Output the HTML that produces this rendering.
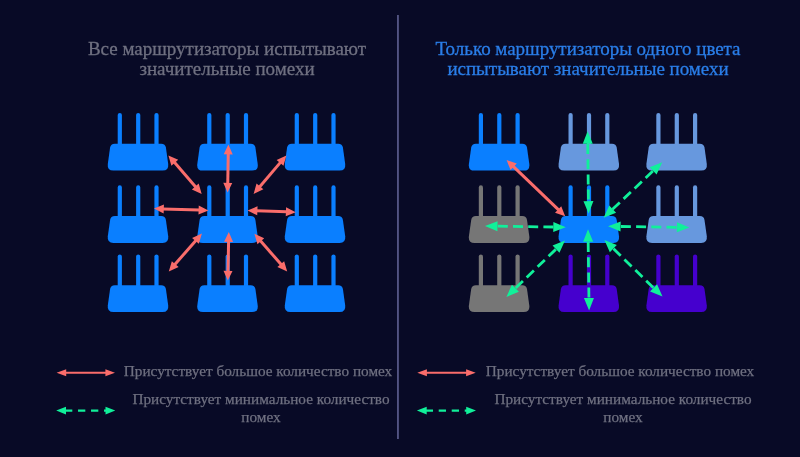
<!DOCTYPE html>
<html><head><meta charset="utf-8">
<style>
html,body{margin:0;padding:0;background:#080a26;}
body{width:800px;height:457px;overflow:hidden;position:relative;font-family:"Liberation Serif",serif;}
svg{position:absolute;left:0;top:0;}
.t{position:absolute;text-align:center;white-space:nowrap;width:400px;will-change:transform;}
.title{font-size:19px;line-height:20px;color:#6f7080;-webkit-text-stroke:0.3px #6f7080;}
.leg{font-size:15.25px;line-height:18px;color:#6f7080;-webkit-text-stroke:0.25px #6f7080;}
</style></head><body>
<div class="t title" id="t1" style="left:26.5px;top:38.7px;">Все маршрутизаторы испытывают<br>значительные помехи</div>
<div class="t title" id="t2" style="left:388px;top:38.7px;color:#2a7ee8;-webkit-text-stroke-color:#2a7ee8;letter-spacing:-0.03px;">Только маршрутизаторы одного цвета<br>испытывают значительные помехи</div>
<div class="t leg" id="l1" style="left:58.2px;top:362.2px;">Присутствует большое количество помех</div>
<div class="t leg" id="l2" style="left:60.5px;top:390.2px;">Присутствует минимальное количество<br>помех</div>
<div class="t leg" id="l3" style="left:420.2px;top:362.2px;">Присутствует большое количество помех</div>
<div class="t leg" id="l4" style="left:422.5px;top:390.2px;">Присутствует минимальное количество<br>помех</div>
<svg width="800" height="457" viewBox="0 0 800 457">
<defs>
<g id="r">
<rect x="9.7" y="0" width="4.2" height="34" rx="2.1"/>
<rect x="28.1" y="0" width="4.2" height="34" rx="2.1"/>
<rect x="46.4" y="0" width="4.2" height="34" rx="2.1"/>
<path d="M6.8 30.8 H53.2 Q57.3 30.8 57.9 34.6 L60.2 51 Q61 57.6 54.6 57.6 H5.4 Q-1 57.6 -0.2 51 L2.1 34.6 Q2.7 30.8 6.8 30.8Z"/>
</g>
</defs>
<rect x="397.2" y="15" width="1.5" height="424" fill="#65679a"/>
<use href="#r" x="108" y="113" fill="#0a7fff"/><use href="#r" x="197.5" y="113" fill="#0a7fff"/><use href="#r" x="285" y="113" fill="#0a7fff"/>
<use href="#r" x="108" y="185.3" fill="#0a7fff"/><use href="#r" x="197.5" y="185.3" fill="#0a7fff"/><use href="#r" x="285" y="185.3" fill="#0a7fff"/>
<use href="#r" x="108" y="254.4" fill="#0a7fff"/><use href="#r" x="197.5" y="254.4" fill="#0a7fff"/><use href="#r" x="285" y="254.4" fill="#0a7fff"/>
<use href="#r" x="469.1" y="113" fill="#0a7fff"/><use href="#r" x="558.8" y="113" fill="#6798de"/><use href="#r" x="646.6" y="113" fill="#6798de"/>
<use href="#r" x="469.1" y="185.3" fill="#767676"/><use href="#r" x="558.8" y="185.3" fill="#0a7fff"/><use href="#r" x="646.6" y="185.3" fill="#6798de"/>
<use href="#r" x="469.1" y="254.4" fill="#767676"/><use href="#r" x="558.8" y="254.4" fill="#4500ce"/><use href="#r" x="646.6" y="254.4" fill="#4500ce"/>
<path d="M174.17 162.07 L195.93 187.23" stroke="#fa6d6b" stroke-width="3" fill="none"/><path d="M168.4 155.4 L178.21 159.87 L171.41 165.76 Z M201.7 193.9 L191.89 189.43 L198.69 183.54 Z" fill="#fa6d6b"/>
<path d="M228.25 153.42 L227.75 183.78" stroke="#fa6d6b" stroke-width="3" fill="none"/><path d="M228.4 144.6 L232.74 154.47 L223.74 154.32 Z M227.6 192.6 L223.26 182.73 L232.26 182.88 Z" fill="#fa6d6b"/>
<path d="M280.68 162.11 L259.32 187.19" stroke="#fa6d6b" stroke-width="3" fill="none"/><path d="M286.4 155.4 L283.47 165.78 L276.62 159.94 Z M253.6 193.9 L256.53 183.52 L263.38 189.36 Z" fill="#fa6d6b"/>
<path d="M162.82 208.89 L199.58 210.11" stroke="#fa6d6b" stroke-width="3" fill="none"/><path d="M154 208.6 L163.94 204.43 L163.65 213.42 Z M208.4 210.4 L198.46 214.57 L198.75 205.58 Z" fill="#fa6d6b"/>
<path d="M256.41 210.73 L286.89 211.87" stroke="#fa6d6b" stroke-width="3" fill="none"/><path d="M247.6 210.4 L257.56 206.27 L257.22 215.26 Z M295.7 212.2 L285.74 216.33 L286.08 207.34 Z" fill="#fa6d6b"/>
<path d="M196.11 240.15 L174.59 264.85" stroke="#fa6d6b" stroke-width="3" fill="none"/><path d="M201.9 233.5 L198.86 243.85 L192.07 237.93 Z M168.8 271.5 L171.84 261.15 L178.63 267.07 Z" fill="#fa6d6b"/>
<path d="M228.62 240.82 L227.98 271.78" stroke="#fa6d6b" stroke-width="3" fill="none"/><path d="M228.8 232 L233.1 241.89 L224.1 241.71 Z M227.8 280.6 L223.5 270.71 L232.5 270.89 Z" fill="#fa6d6b"/>
<path d="M260.19 240.45 L281.41 264.85" stroke="#fa6d6b" stroke-width="3" fill="none"/><path d="M254.4 233.8 L264.23 238.24 L257.44 244.15 Z M287.2 271.5 L277.37 267.06 L284.16 261.15 Z" fill="#fa6d6b"/>
<path d="M512.96 166.11 L558.84 210.19" stroke="#fa6d6b" stroke-width="3" fill="none"/><path d="M506.6 160 L516.78 163.54 L510.55 170.03 Z M565.2 216.3 L555.02 212.76 L561.25 206.27 Z" fill="#fa6d6b"/>
<path d="M587.74 142.45 L588.46 202.35" stroke="#10f09a" stroke-width="2.8" fill="none" stroke-dasharray="10 5.2" stroke-dashoffset="13.65"/><path d="M587.6 131.2 L592.75 143.64 L582.75 143.76 Z M588.6 213.6 L583.45 201.16 L593.45 201.04 Z" fill="#10f09a"/>
<path d="M654.03 170.04 L611.77 210.06" stroke="#10f09a" stroke-width="2.8" fill="none" stroke-dasharray="10 5.2" stroke-dashoffset="13.65"/><path d="M662.2 162.3 L656.56 174.53 L649.69 167.27 Z M603.6 217.8 L609.24 205.57 L616.11 212.83 Z" fill="#10f09a"/>
<path d="M496.25 226.17 L554.55 227.03" stroke="#10f09a" stroke-width="2.8" fill="none" stroke-dasharray="10 5.2" stroke-dashoffset="13.65"/><path d="M485 226 L497.57 221.19 L497.42 231.19 Z M565.8 227.2 L553.23 232.01 L553.38 222.01 Z" fill="#10f09a"/>
<path d="M619.35 226.47 L678.15 227.33" stroke="#10f09a" stroke-width="2.8" fill="none" stroke-dasharray="10 5.2" stroke-dashoffset="13.65"/><path d="M608.1 226.3 L620.67 221.49 L620.52 231.48 Z M689.4 227.5 L676.83 232.31 L676.98 222.32 Z" fill="#10f09a"/>
<path d="M556.89 248.3 L514.51 289.1" stroke="#10f09a" stroke-width="2.8" fill="none" stroke-dasharray="10 5.2" stroke-dashoffset="13.65"/><path d="M565 240.5 L559.46 252.77 L552.53 245.57 Z M506.4 296.9 L511.94 284.63 L518.87 291.83 Z" fill="#10f09a"/>
<path d="M588.15 240.45 L588.95 299.25" stroke="#10f09a" stroke-width="2.8" fill="none" stroke-dasharray="10 5.2" stroke-dashoffset="13.65"/><path d="M588 229.2 L593.17 241.63 L583.17 241.77 Z M589.1 310.5 L583.93 298.07 L593.93 297.93 Z" fill="#10f09a"/>
<path d="M612.45 247.76 L654.45 288.74" stroke="#10f09a" stroke-width="2.8" fill="none" stroke-dasharray="10 5.2" stroke-dashoffset="13.65"/><path d="M604.4 239.9 L616.84 245.05 L609.85 252.21 Z M662.5 296.6 L650.06 291.45 L657.05 284.29 Z" fill="#10f09a"/>
<path d="M65.24 372.7 L106.36 372.7" stroke="#fa6d6b" stroke-width="2" fill="none"/><path d="M56.6 372.7 L66.2 369.2 L66.2 376.2 Z M115 372.7 L105.4 376.2 L105.4 369.2 Z" fill="#fa6d6b"/>
<path d="M65.02 410.6 L106.48 410.6" stroke="#10f09a" stroke-width="2.3" fill="none" stroke-dasharray="7.3 5.7" stroke-dashoffset="0"/><path d="M56.2 410.6 L66 406.8 L66 414.4 Z M115.3 410.6 L105.5 414.4 L105.5 406.8 Z" fill="#10f09a"/>
<path d="M425.94 372.7 L467.06 372.7" stroke="#fa6d6b" stroke-width="2" fill="none"/><path d="M417.3 372.7 L426.9 369.2 L426.9 376.2 Z M475.7 372.7 L466.1 376.2 L466.1 369.2 Z" fill="#fa6d6b"/>
<path d="M425.72 410.6 L467.18 410.6" stroke="#10f09a" stroke-width="2.3" fill="none" stroke-dasharray="7.3 5.7" stroke-dashoffset="0"/><path d="M416.9 410.6 L426.7 406.8 L426.7 414.4 Z M476 410.6 L466.2 414.4 L466.2 406.8 Z" fill="#10f09a"/>
</svg>
</body></html>
